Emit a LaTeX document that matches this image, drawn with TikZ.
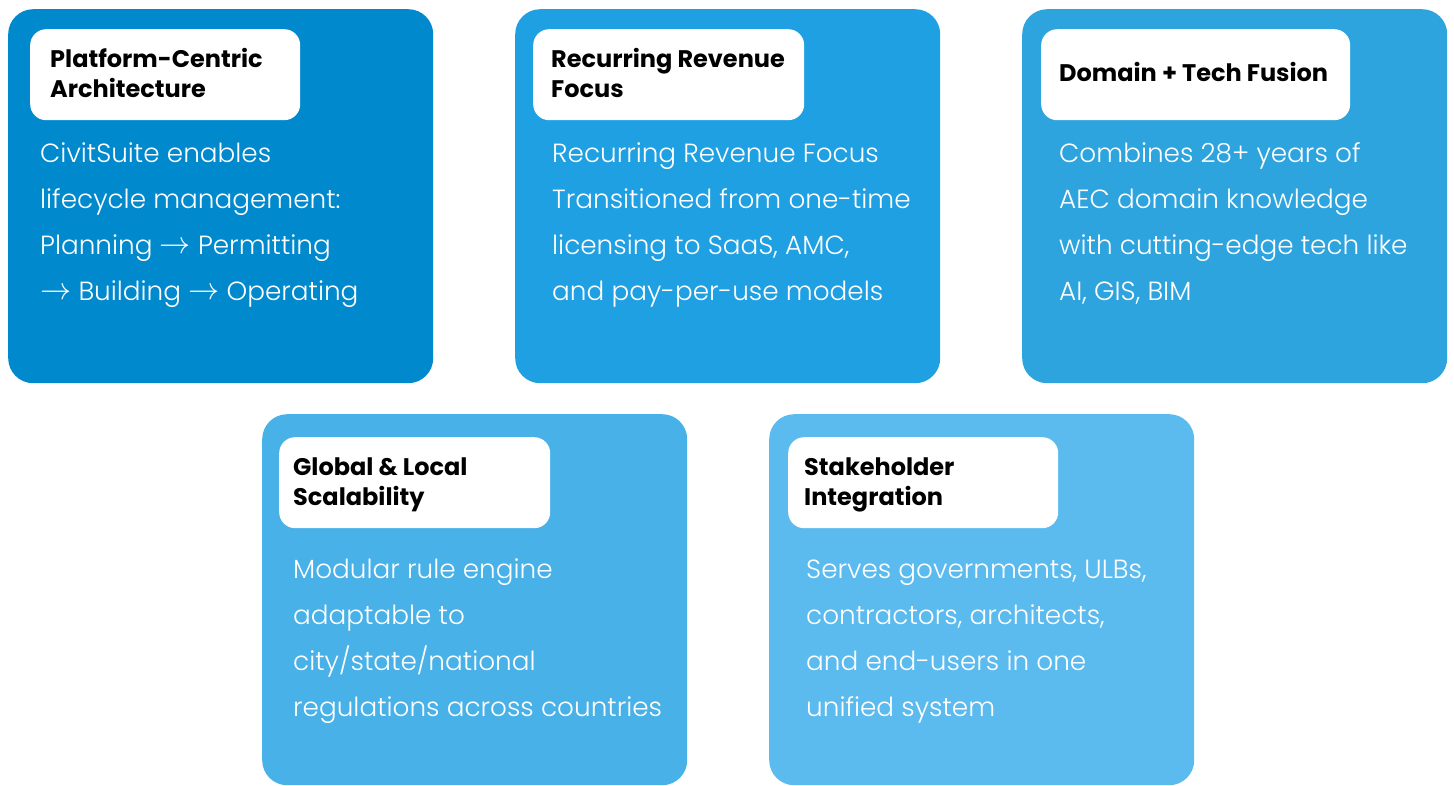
\documentclass[tikz,border=0pt]{standalone}
\usepackage{fontspec}
\setmainfont{Poppins}[UprightFont={* Light},BoldFont={* Bold}]
\definecolor{cA}{HTML}{0089CD}
\definecolor{cB}{HTML}{1FA0E3}
\definecolor{cC}{HTML}{2EA4DF}
\definecolor{cD}{HTML}{48B1E8}
\definecolor{cE}{HTML}{5BBBEF}
\tikzset{
  card/.style={rounded corners=25pt, draw=none, minimum width=425pt, anchor=north west, inner sep=0pt},
  headbox/.style={rounded corners=16pt, fill=white, draw=none, minimum height=91pt, anchor=north west, inner sep=0pt},
  headtxt/.style={font=\fontsize{24}{30}\selectfont\bfseries, text=black, align=left, inner sep=0pt, anchor=base west},
  bodytxt/.style={font=\fontsize{26.3}{46}\selectfont, text=white, align=left, inner sep=0pt, anchor=base west}
}
\newcommand{\arr}{\raisebox{0.5pt}{\scalebox{1.25}{\ensuremath{\rightarrow}}}}
\begin{document}
\begin{tikzpicture}[x=1pt,y=-1pt]
\useasboundingbox[fill=white] (0,0) rectangle (1454,785);
% top row
\node[card, fill=cA, minimum height=374pt] (c1) at (8,9) {};
\node[card, fill=cB, minimum height=374pt] (c2) at (515,9) {};
\node[card, fill=cC, minimum height=374pt] (c3) at (1022,9) {};
% bottom row
\node[card, fill=cD, minimum height=371pt] (c4) at (262,414) {};
\node[card, fill=cE, minimum height=371pt] (c5) at (769,414) {};
% heading boxes
\node[headbox, minimum width=270pt] (h1) at (30,29) {};
\node[headbox, minimum width=271pt] (h2) at (533,29) {};
\node[headbox, minimum width=309pt] (h3) at (1041,29) {};
\node[headbox, minimum width=271pt] (h4) at (279,437) {};
\node[headbox, minimum width=270pt] (h5) at (788,437) {};
% heading texts (anchored at last baseline)
\node[headtxt] (t1) at (50,97) {Platform-Centric\\Architecture};
\node[headtxt] (t2) at (551,97) {Recurring Revenue\\Focus};
\node[headtxt] (t3) at (1059,81) {Domain + Tech Fusion};
\node[headtxt] (t4) at (293,505) {Global \& Local\\Scalability};
\node[headtxt] (t5) at (804,505) {Stakeholder\\Integration};
% body texts (anchored at last baseline)
\node[bodytxt] (b1) at (40,300) {CivitSuite enables\\lifecycle management:\\Planning \arr{} Permitting\\\arr{} Building \arr{} Operating};
\node[bodytxt] (b2) at (552,300) {Recurring Revenue Focus\\Transitioned from one-time\\licensing to SaaS, AMC,\\and pay-per-use models};
\node[bodytxt] (b3) at (1059,300) {Combines 28+ years of\\AEC domain knowledge\\with cutting-edge tech like\\AI, GIS, BIM};
\node[bodytxt] (b4) at (293,716) {Modular rule engine\\adaptable to\\city/state/national\\regulations across countries};
\node[bodytxt] (b5) at (806,716) {Serves governments, ULBs,\\contractors, architects,\\and end-users in one\\unified system};
\end{tikzpicture}
\end{document}
